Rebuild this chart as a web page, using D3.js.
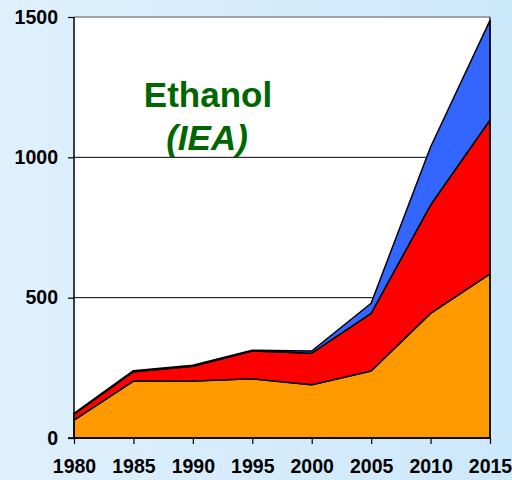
<!DOCTYPE html>
<html>
<head>
<meta charset="utf-8">
<script src="https://cdn.jsdelivr.net/npm/d3@7"></script>
<style>
  html, body { margin: 0; padding: 0; }
  body { width: 512px; height: 480px; overflow: hidden; }
</style>
</head>
<body>
<div id="chart"></div>
<script>
// values (stacked layers, bottom to top)
const years = [1980, 1985, 1990, 1995, 2000, 2005, 2010, 2015];
const orange = [64, 203, 203, 211, 190, 239, 444, 585];
const red = [21, 33, 53, 99, 112, 205, 386, 548];
const blue = [3, 4, 3, 3, 8, 36, 207, 355];
const yTicks = [0, 500, 1000, 1500];
const layerColors = ["#ff9900", "#ff0000", "#3366ff"];

const W = 512, H = 480;
const margin = { top: 17, right: 22, bottom: 42, left: 74 };

const svg = d3.select("#chart").append("svg")
  .attr("width", W).attr("height", H);

// background gradient
const grad = svg.append("defs").append("linearGradient")
  .attr("id", "bg").attr("x1", "0").attr("y1", "0").attr("x2", "1").attr("y2", "0");
grad.append("stop").attr("offset", "0").attr("stop-color", "#dff0fd");
grad.append("stop").attr("offset", "1").attr("stop-color", "#cce8fb");
svg.append("rect").attr("width", W).attr("height", H).attr("fill", "url(#bg)");

const x = d3.scaleLinear().domain([1980, 2015]).range([margin.left, W - margin.right]);
const y = d3.scaleLinear().domain([0, 1500]).range([H - margin.bottom, margin.top]);

// plot area
svg.append("rect")
  .attr("x", x(1980)).attr("y", y(1500))
  .attr("width", x(2015) - x(1980)).attr("height", y(0) - y(1500))
  .attr("fill", "#fff");

// grid lines
svg.append("g").selectAll("line")
  .data([500, 1000]).join("line")
  .attr("x1", x(1980)).attr("x2", x(2015))
  .attr("y1", d => y(d)).attr("y2", d => y(d))
  .attr("stroke", "#000").attr("stroke-width", 1);
svg.append("line")
  .attr("x1", x(1980)).attr("x2", x(2015))
  .attr("y1", y(1500)).attr("y2", y(1500))
  .attr("stroke", "#888").attr("stroke-width", 1.5);

// stacked areas
const rows = years.map((yr, i) => ({ year: yr, a: orange[i], b: red[i], c: blue[i] }));
const series = d3.stack().keys(["a", "b", "c"])(rows);
const area = d3.area()
  .x(d => x(d.data.year))
  .y0(d => y(d[0]))
  .y1(d => y(d[1]));
svg.append("g").selectAll("path")
  .data(series).join("path")
  .attr("d", area)
  .attr("fill", (d, i) => layerColors[i])
  .attr("stroke", "#000")
  .attr("stroke-width", 1.5)
  .attr("stroke-linejoin", "round");

// right border
svg.append("line")
  .attr("x1", x(2015)).attr("x2", x(2015))
  .attr("y1", y(1500)).attr("y2", y(0))
  .attr("stroke", "#000").attr("stroke-width", 1.2);

// axes
const yAxis = svg.append("g")
  .attr("transform", `translate(${x(1980)},0)`)
  .call(d3.axisLeft(y).tickValues(yTicks).tickSize(6).tickPadding(10).tickFormat(d3.format("d")));
const xAxis = svg.append("g")
  .attr("transform", `translate(0,${y(0)})`)
  .call(d3.axisBottom(x).tickValues(years).tickSize(6).tickPadding(15).tickFormat(d3.format("d")));
[xAxis, yAxis].forEach(g => {
  g.select(".domain").attr("stroke", "#000").attr("stroke-width", 1.5);
  g.selectAll(".tick line").attr("stroke", "#000").attr("stroke-width", 1.2);
  g.selectAll("text")
    .attr("fill", "#000")
    .style("font-family", "'Liberation Sans', Arial, sans-serif")
    .style("font-weight", "bold")
    .style("font-size", "19.5px");
});
yAxis.select(".domain").attr("d", `M0,${y(1500)}V${y(0)}`);
xAxis.select(".domain").attr("d", `M${x(1980) - 6},0H${x(2015)}`);

// title
svg.append("text")
  .attr("x", 208).attr("y", 107)
  .attr("text-anchor", "middle")
  .attr("fill", "#006600")
  .style("font-family", "'Liberation Sans', Arial, sans-serif")
  .style("font-weight", "bold")
  .style("font-size", "35px")
  .text("Ethanol");
svg.append("text")
  .attr("x", 207).attr("y", 150)
  .attr("text-anchor", "middle")
  .attr("fill", "#006600")
  .style("font-family", "'Liberation Sans', Arial, sans-serif")
  .style("font-weight", "bold")
  .style("font-style", "italic")
  .style("font-size", "35px")
  .text("(IEA)");
</script>
</body>
</html>
